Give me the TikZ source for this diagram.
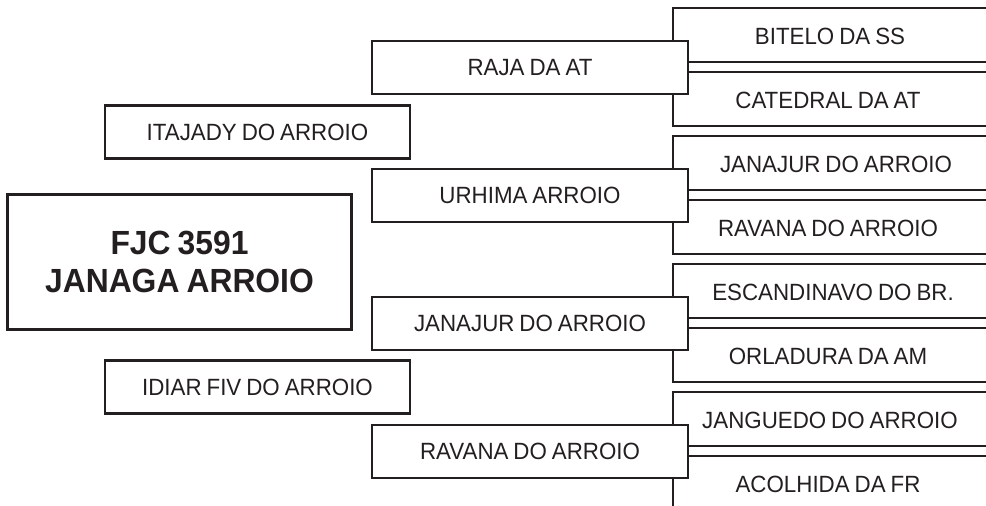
\documentclass[tikz,border=0pt]{standalone}
\usepackage{fontspec}
\setmainfont[FakeStretch=0.95,WordSpace=0.8]{Liberation Sans}
\definecolor{pedink}{RGB}{35,31,32}
\tikzset{
  cell/.style={line width=2.4pt,draw=pedink},
  namebox/.style={draw=pedink,line width=2.4pt,fill=white,inner sep=0pt,
    minimum width=316pt,minimum height=53pt},
  sidebox/.style={draw=pedink,line width=2.4pt,fill=white,inner sep=0pt,
    minimum width=305pt,minimum height=53pt}
}
\begin{document}
\begin{tikzpicture}[x=1pt,y=-1pt,text=pedink,
    font=\fontsize{23.5}{28}\selectfont]
  \useasboundingbox (0,0) rectangle (986,506);
  % great-grandparents: open cells on the right, two per parent
  \draw[cell] (990,8) -| (673,126) -- (990,126);
  \draw[cell] (673,62) -- (990,62);
  \draw[cell] (673,72) -- (990,72);
  \draw[cell] (990,136) -| (673,254) -- (990,254);
  \draw[cell] (673,190) -- (990,190);
  \draw[cell] (673,200) -- (990,200);
  \draw[cell] (990,264) -| (673,382) -- (990,382);
  \draw[cell] (673,318) -- (990,318);
  \draw[cell] (673,328) -- (990,328);
  \draw[cell] (990,392) -| (673,510);
  \draw[cell] (673,446) -- (990,446);
  \draw[cell] (673,456) -- (990,456);
  \node (bitelo) at (830,36) {BITELO DA SS};
  \node (catedral) at (828,100) {CATEDRAL DA AT};
  \node (janajurb) at (836,164) {JANAJUR DO ARROIO};
  \node (ravanab) at (828,228) {RAVANA DO ARROIO};
  \node (escand) at (833,292) {ESCANDINAVO DO BR.};
  \node (orladura) at (828,356) {ORLADURA DA AM};
  \node (jangued) at (830,420) {JANGUEDO DO ARROIO};
  \node (acolhida) at (828,484) {ACOLHIDA DA FR};
  % grandparents
  \node[namebox] (raja) at (530,67.5) {RAJA DA AT};
  \node[namebox] (urhima) at (530,195.5) {URHIMA ARROIO};
  \node[namebox] (janajur) at (530,323.5) {JANAJUR DO ARROIO};
  \node[namebox] (ravana) at (530,451.5) {RAVANA DO ARROIO};
  % parents
  \node[sidebox] (itajady) at (257.5,132) {ITAJADY DO ARROIO};
  \node[sidebox] (idiar) at (257.5,387) {IDIAR FIV DO ARROIO};
  % the animal itself
  \node[draw=pedink,line width=2.4pt,inner sep=0pt,minimum width=344pt,
    minimum height=135pt,align=center,font=\fontsize{33.5}{38}\selectfont\bfseries]
    (fjc) at (179.5,262) {FJC 3591\\JANAGA ARROIO};
\end{tikzpicture}
\end{document}
